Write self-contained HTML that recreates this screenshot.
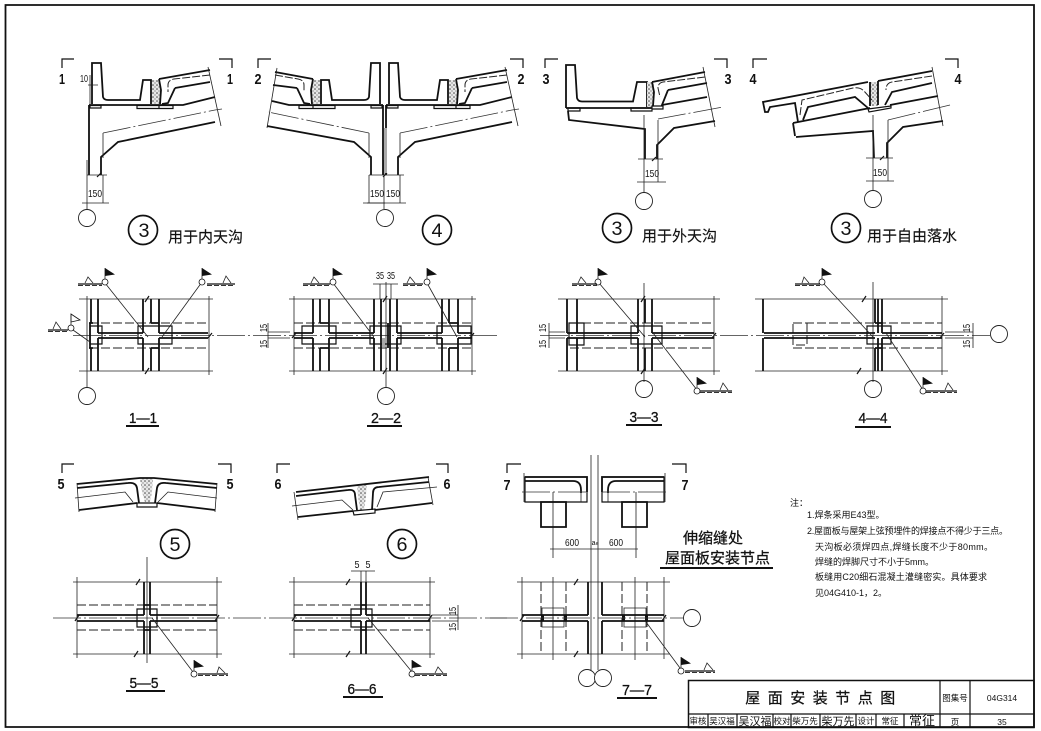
<!DOCTYPE html>
<html><head><meta charset="utf-8"><style>
html,body{margin:0;padding:0;background:#fff}
svg{display:block;filter:blur(.25px)}
text{font-family:"Liberation Sans","Noto Sans CJK SC",sans-serif;fill:#111}
.t{fill:none;stroke:#111;stroke-width:1.8}
.m{fill:none;stroke:#111;stroke-width:1.2}
.n{fill:none;stroke:#222;stroke-width:.8}
.d{fill:none;stroke:#222;stroke-width:1;stroke-dasharray:9 3}
.c{fill:none;stroke:#333;stroke-width:.8;stroke-dasharray:28 3 2 3}
.w{fill:#fff;stroke:#111;stroke-width:.8}
.u{fill:none;stroke:#111;stroke-width:2}
.s{font-size:10px;text-anchor:middle}
.l{font-size:15px;text-anchor:middle;font-weight:bold}
.b{font-size:19px;text-anchor:middle}
.h{font-size:15px;text-anchor:middle;stroke:#111;stroke-width:.3}
.k{font-size:15px;stroke:#111;stroke-width:.15}
.f{font-size:9px}
.g{font-size:10px;text-anchor:middle}
.e{font-size:8.500px;text-anchor:middle}
.r{fill:none;stroke:#333;stroke-width:.9;stroke-dasharray:5 2}
</style></head><body>
<svg width="1041" height="731" viewBox="0 0 1041 731" xmlns="http://www.w3.org/2000/svg">
<defs>
<pattern id="gr" width="4" height="4" patternUnits="userSpaceOnUse"><rect width="4" height="4" fill="#e8e8e8"/><circle cx="1" cy="1" r=".8" fill="#444"/><circle cx="3" cy="3" r=".6" fill="#666"/></pattern>
<g id="flag"><circle r="3" class="w"/><path class="n" d="M0-14V-3"/><path d="M0-14L10-7.500L0-6z" fill="#111"/></g>
<g id="d1">
<path class="t" d="M92 104V63H101L103 97Q104 100 108 100H140L143 80H151V104M89 105H183L215 97"/>
<rect x="152" y="80" width="8" height="24" fill="url(#gr)"/>
<path class="m" d="M90 105.500H101V108H90ZM137 105.500H159V108.500H137ZM159 105.500H173V108.500H159Z"/>
<path class="t" d="M89 105V175M101 175V157L118 142L215 122"/>
<path class="t" d="M159 79L210 70M175 88L210 82M175 88L168 103L162 104M159 79L161 90L160 104"/>
<path class="d" d="M210 75L174 79Q168 80 168 85V92" style="stroke-dasharray:8 2"/>
</g>
</defs>
<rect width="1041" height="731" fill="#fff"/>
<!-- frame -->
<path d="M5.500 5H1034V727H5.500Z" fill="none" stroke="#111" stroke-width="1.800"/>

<!-- break ticks -->
<path class="m" d="M97 177L101 173M383 177L387 173M652 161L656 157M880 160L884 156M145 302L149 296M145 374L149 368M383 302L387 296M383 374L387 368M641 302L645 296M641 374L645 368M862 302L866 296M857 374L861 368M136 585L140 579M134 657L138 651M346 585L350 579M346 657L350 651M574 585L578 579M574 657L578 651M208 338L212 333M292 338L296 333M470 338L474 333M712 338L716 333M940 338L944 333M75 621L79 615M215 621L219 615M292 621L296 615M428 621L432 615M520 621L524 615M662 621L666 615"/>

<!-- ============ DETAIL 1 ============ -->
<path class="m" d="M62 68V59H74M219 59H232V68M258 68V59H271M510 59H523V68"/>
<text class="l" x="62" y="84" textLength="6" lengthAdjust="spacingAndGlyphs">1</text>
<text class="l" x="230" y="84" textLength="6" lengthAdjust="spacingAndGlyphs">1</text>
<text class="l" x="258" y="84" textLength="7" lengthAdjust="spacingAndGlyphs">2</text>
<text class="l" x="521" y="84" textLength="7" lengthAdjust="spacingAndGlyphs">2</text>
<use href="#d1"/>
<path class="n" d="M208 67L221 126M103 158V133M87 175H107M87 160V203M103 175V203M82 203H109M87 203V209M88 85H98M90 75V105"/>
<path class="c" d="M103 133L215 110L222 109"/>
<text class="s" x="84" y="82" textLength="8" lengthAdjust="spacingAndGlyphs">10</text>
<text class="s" x="95" y="197" textLength="14" lengthAdjust="spacingAndGlyphs">150</text>
<circle cx="87" cy="218" r="8.500" class="n" style="stroke-width:.9"/>
<circle cx="143" cy="230" r="14.500" class="m" style="stroke-width:1.700"/>
<text class="b" x="144" y="237" textLength="11" lengthAdjust="spacingAndGlyphs">3</text>
<text class="k" x="168" y="242">用于内天沟</text>

<!-- ============ DETAIL 2 / 4 ============ -->
<g transform="translate(472,0) scale(-1,1)">
<path class="t" d="M92 104V63H101L103 97Q104 100 108 100H140L143 80H151V104M89 105H183L200 101"/>
<rect x="152" y="80" width="8" height="24" fill="url(#gr)"/>
<path class="m" d="M90 105.500H101V108H90ZM137 105.500H159V108.500H137ZM159 105.500H173V108.500H159Z"/>
<path class="t" d="M89 105V175M101 175V157L118 142L205 126"/>
<path class="t" d="M159 79L197 72M175 88L199 85M175 88L168 103L162 104M159 79L161 90L160 104"/>
<path class="d" d="M197 75L174 79Q168 80 168 85V92" style="stroke-dasharray:8 2"/>
<path class="n" d="M195 68L205 128M103 158V133M103 175H87M103 175V203M87 203H109"/>
<path class="c" d="M103 133L204 112"/>
</g>
<use href="#d1" x="297"/>
<path class="n" d="M505 67L518 126M400 158V133M384 175H404M384 160V203M400 175V203M367 203H406M384 203V209"/>
<path class="c" d="M400 133L512 110L519 109"/>
<rect x="384" y="128" width="3" height="45" fill="#aaa"/>
<text class="s" x="377" y="197" textLength="14" lengthAdjust="spacingAndGlyphs">150</text>
<text class="s" x="393" y="197" textLength="14" lengthAdjust="spacingAndGlyphs">150</text>
<circle cx="385" cy="218" r="8.500" class="n" style="stroke-width:.9"/>
<circle cx="437" cy="230" r="14.500" class="m" style="stroke-width:1.700"/>
<text class="b" x="437" y="237" textLength="11" lengthAdjust="spacingAndGlyphs">4</text>

<!-- ============ DETAIL 3 ============ -->
<path class="m" d="M545 68V59H558M714 59H727V68"/>
<text class="l" x="546" y="84" textLength="7" lengthAdjust="spacingAndGlyphs">3</text>
<text class="l" x="728" y="84" textLength="7" lengthAdjust="spacingAndGlyphs">3</text>
<path class="t" d="M566 108V65H575L577 98Q578 101.500 582 101.500H633L637 82H647V107M566 108H652"/>
<rect x="647" y="82" width="7" height="25" fill="url(#gr)"/>
<path class="m" d="M568 108H580V111H568ZM631 108H652V111H631ZM652 106H663V109H652Z"/>
<path class="t" d="M568 111L569 120L645 129V159M657 159V145L674 128L715 121"/>
<path class="t" d="M652 82L705 72M668 90L707 83M668 90L662 105L707 97M652 82L654 92L653 106"/>
<path class="d" d="M705 77L663 82Q658 83 658 88L660 97" style="stroke-dasharray:8 2"/>
<path class="n" d="M703 67L715 127M644 115V182M658 120V182M638 159H663M637 182H666M644 182V192"/>
<path class="c" d="M658 119L723 107"/>
<text class="s" x="652" y="177" textLength="14" lengthAdjust="spacingAndGlyphs">150</text>
<circle cx="644" cy="201" r="8.500" class="n" style="stroke-width:.9"/>
<circle cx="617" cy="228" r="14.500" class="m" style="stroke-width:1.700"/>
<text class="b" x="617" y="235" textLength="11" lengthAdjust="spacingAndGlyphs">3</text>
<text class="k" x="642" y="241">用于外天沟</text>

<!-- ============ DETAIL 4 (free fall) ============ -->
<path class="m" d="M753 68V59H767M945 59H958V68"/>
<text class="l" x="753" y="84" textLength="7" lengthAdjust="spacingAndGlyphs">4</text>
<text class="l" x="958" y="84" textLength="7" lengthAdjust="spacingAndGlyphs">4</text>
<rect x="870" y="82" width="8" height="24" fill="url(#gr)"/>
<path class="t" d="M932 71L878 81M868 82L763 102L765 112H768L770 107L795 103L798 122M803 120L808 107L855 97L868 108M885 105L892 92L932 83M890 105L938 96M793 123L870 108M793 123L795 136M796 137L873 131L874 158M887 158V143L903 127L943 121M870 82V106M878 81V105"/>
<path class="m" d="M868 109L891 106V108L869 112Z"/>
<path class="d" d="M800 115L802 100L853 88Q860 87 864 91L872 100M932 76L892 82Q886 83 886 90" style="stroke-dasharray:8 2"/>
<path class="n" d="M932 67L943 126M873 115V181M888 120V181M866 158H893M866 181H894M873 181V190"/>
<path class="c" d="M888 120L950 105"/>
<text class="s" x="880" y="176" textLength="14" lengthAdjust="spacingAndGlyphs">150</text>
<circle cx="873" cy="199" r="8.500" class="n" style="stroke-width:.9"/>
<circle cx="846" cy="228" r="14.500" class="m" style="stroke-width:1.700"/>
<text class="b" x="846" y="235" textLength="11" lengthAdjust="spacingAndGlyphs">3</text>
<text class="k" x="867" y="241">用于自由落水</text>

<!-- ============ CENTRE LINE row 1 ============ -->
<path class="c" d="M73 335.500H500M540 335.500H990"/>

<!-- PLAN 1-1 -->
<path class="n" d="M79 299H213M79 371H213M209 296V375M87 296V388"/>
<path class="d" d="M89 323H208M89 348H208"/>
<path class="m" d="M138 326H172V344H138ZM90 326H102V344H90Z"/>
<path class="t" d="M91 299V323M98 299V333M98 338V371M91 348V371M143 299V333M143 338V371M151 299V323M159 299V333M159 338V371M151 348V371M151 323H159M151 348H159M90 323V348M89 323H93M89 348H93M98 333H143M98 338H143M159 333H208M159 338H208"/>
<path class="n" d="M105 283L148 337M202 282L162 337M73 330L90 342"/>
<use href="#flag" x="105" y="282"/><use href="#flag" x="202" y="282"/>
<circle cx="71" cy="328" r="3" class="w"/><path class="w" d="M71 314L80 320L71 322Z"/><path class="n" d="M71 314V325"/>
<path class="m" d="M78 284H102M207 284H235M48 330H68"/>
<path class="r" d="M78 285.500H102M207 285.500H235M48 331.500H68"/>
<path class="n" d="M85 283L88 277L93 283M223 283L226 276L231 283M53 329L56 322L61 329"/>
<circle cx="87" cy="396" r="8.500" class="n" style="stroke-width:.9"/>
<text class="h" x="143" y="423" textLength="28" lengthAdjust="spacingAndGlyphs">1—1</text>
<path class="u" d="M126 426H159"/>

<!-- PLAN 2-2 -->
<path class="n" d="M289 299H476M289 371H476M294 296V375M472 296V375M386 282V388M268 323V348M268 332H290M268 338H290M373 284H398M380 284V299M386 284V299M391 284V299"/>
<path class="d" d="M294 323H472M294 348H472"/>
<path class="m" d="M302 326H336V344H302ZM370 326H401V344H370ZM437 326H471V344H437Z"/>
<rect x="382" y="338" width="3" height="9" fill="#aaa"/>
<path class="t" d="M313 299V333M313 338V371M320 299V323M320 348V371M329 299V333M329 338V371M320 323H329M320 348H329M374 299V333M374 338V371M381 299V323M381 348V371M381 323V348M390 299V371M388 323V348M397 299V333M397 338V371M442 299V333M442 338V371M449 299V323M449 348V371M458 299V333M458 338V371M449 323H458M449 348H458M294 333H313M294 338H313M329 333H374M329 338H374M397 333H442M397 338H442M458 333H472M458 338H472"/>
<path class="n" d="M333 283L374 337M427 283L457 337"/>
<use href="#flag" x="333" y="282"/><use href="#flag" x="427" y="282"/>
<path class="m" d="M303 284H330M403 284H423"/>
<path class="r" d="M303 285.500H330M403 285.500H423"/>
<path class="n" d="M311 283L314 277L319 283M407 283L410 277L415 283"/>
<text class="s" x="380" y="279" textLength="8" lengthAdjust="spacingAndGlyphs">35</text>
<text class="s" x="391" y="279" textLength="8" lengthAdjust="spacingAndGlyphs">35</text>
<text class="s" transform="translate(267,328) rotate(-90)" textLength="8" lengthAdjust="spacingAndGlyphs">15</text>
<text class="s" transform="translate(267,344) rotate(-90)" textLength="8" lengthAdjust="spacingAndGlyphs">15</text>
<circle cx="386" cy="396" r="8.500" class="n" style="stroke-width:.9"/>
<text class="h" x="386" y="423" textLength="30" lengthAdjust="spacingAndGlyphs">2—2</text>
<path class="u" d="M367 426H402"/>

<!-- PLAN 3-3 -->
<path class="n" d="M558 299H720M558 371H720M714 296V375M644 283V382M549 323V348M549 332H565M549 338H565"/>
<path class="d" d="M570 323H714M570 348H714"/>
<path class="m" d="M569 323H584V345H569ZM631 326H662V344H631Z"/>
<path class="t" d="M567 299V333M567 338V371M577 299V333M577 338V371M638 299V333M638 338V371M645 299V323M645 348V371M652 299V333M652 338V371M567 333H638M567 338H638M652 333H714M652 338H714"/>
<path class="n" d="M599 283L645 337M653 333L697 390"/>
<use href="#flag" x="598" y="282"/>
<path class="m" d="M572 284H597M700 391H732"/>
<path class="r" d="M572 285.500H597M700 392.500H732"/>
<path class="n" d="M578 283L581 277L586 283M720 390L723 383L728 390"/>
<use href="#flag" x="697" y="391"/>
<text class="s" transform="translate(546,328) rotate(-90)" textLength="8" lengthAdjust="spacingAndGlyphs">15</text>
<text class="s" transform="translate(546,344) rotate(-90)" textLength="8" lengthAdjust="spacingAndGlyphs">15</text>
<circle cx="644" cy="389" r="8.500" class="n" style="stroke-width:.9"/>
<text class="h" x="644" y="422" textLength="29" lengthAdjust="spacingAndGlyphs">3—3</text>
<path class="u" d="M626 425H662"/>

<!-- PLAN 4-4 -->
<path class="n" d="M755 299H948M755 371H948M942 296V375M873 282V382M973 323V348M945 332H973M945 338H973"/>
<path class="d" d="M793 323H942M793 348H942M807 323V345H793V323"/>
<path class="m" d="M867 326H891V344H867Z"/>
<path class="t" d="M763 299V333M763 338V371M875 299V323M875 348V371M878 299V333M878 338V371M882 299V333M882 338V371M875 323H882M875 348H882M764 333H875M764 338H875M882 333H942M882 338H942"/>
<path class="n" d="M823 283L873 337M886 333L923 390"/>
<use href="#flag" x="822" y="282"/>
<path class="m" d="M795 284H820M926 391H957"/>
<path class="r" d="M795 285.500H820M926 392.500H957"/>
<path class="n" d="M802 283L804 277L809 283M945 390L948 383L953 390"/>
<use href="#flag" x="923" y="391"/>
<text class="s" transform="translate(970,328) rotate(-90)" textLength="8" lengthAdjust="spacingAndGlyphs">15</text>
<text class="s" transform="translate(970,344) rotate(-90)" textLength="8" lengthAdjust="spacingAndGlyphs">15</text>
<circle cx="873" cy="389" r="8.500" class="n" style="stroke-width:.9"/>
<circle cx="999" cy="334" r="8.500" class="n" style="stroke-width:.9"/>
<text class="h" x="873" y="423" textLength="29" lengthAdjust="spacingAndGlyphs">4—4</text>
<path class="u" d="M855 427H891"/>

<!-- ============ DETAIL 5 ============ -->
<path class="m" d="M62 473V464H74M218 464H231V473"/>
<text class="l" x="61" y="489" textLength="7" lengthAdjust="spacingAndGlyphs">5</text>
<text class="l" x="230" y="489" textLength="7" lengthAdjust="spacingAndGlyphs">5</text>
<path d="M140 478H153L152 492L150 502H145L142 492Z" fill="url(#gr)"/>
<path class="t" d="M77 484L140 478H154L217 484M79 510L137 503M157 503L215 510M77 488L128 483Q136 482 137 488L139 503M217 488L166 483Q158 482 157 488L155 503"/>
<path class="m" d="M137 503H157V507H137Z"/>
<path class="n" d="M75 498L125 492L133 502M158 502L168 492L217 498M77 483L79 512M217 483L215 512"/>
<circle cx="175" cy="544" r="14.500" class="m" style="stroke-width:1.700"/>
<text class="b" x="175" y="551" textLength="11" lengthAdjust="spacingAndGlyphs">5</text>

<!-- DETAIL 6 -->
<path class="m" d="M277 473V464H290M436 464H448V473"/>
<text class="l" x="278" y="489" textLength="7" lengthAdjust="spacingAndGlyphs">6</text>
<text class="l" x="447" y="489" textLength="7" lengthAdjust="spacingAndGlyphs">6</text>
<path d="M357 485H367L366 496L364 510H360L358 496Z" fill="url(#gr)"/>
<path class="t" d="M296 492L429 477M296 496L348 490Q355 489 355 495L357 510M372 510L373 493Q373 487 379 487L429 482M298 517L353 511M375 510L432 503"/>
<path class="m" d="M353 511L375 509V513L354 515Z"/>
<path class="n" d="M292 506L342 500L353 510M377 507L383 492L437 487M294 492L298 520M428 477L433 505"/>
<circle cx="402" cy="544" r="14.500" class="m" style="stroke-width:1.700"/>
<text class="b" x="402" y="551" textLength="11" lengthAdjust="spacingAndGlyphs">6</text>

<!-- CENTRE LINE row 2 -->
<path class="c" d="M53 618H507"/>

<!-- PLAN 5-5 -->
<path class="n" d="M73 582H222M73 654H222M77 577V658M217 577V658M147 557V663"/>
<path class="d" d="M77 605H217M77 630H217"/>
<path class="m" d="M137 609H157V627H137Z"/>
<path class="t" d="M144 582V615M144 621V654M150 582V615M150 621V654M144 605H150M144 630H150M77 615H144M77 621H144M150 615H217M150 621H217"/>
<path class="n" d="M152 618L193 672"/>
<use href="#flag" x="194" y="674"/>
<path class="m" d="M198 674H228"/>
<path class="r" d="M198 675.500H228"/>
<path class="n" d="M217 673L219 667L225 673"/>
<text class="h" x="144" y="688" textLength="29" lengthAdjust="spacingAndGlyphs">5—5</text>
<path class="u" d="M126 691H165"/>

<!-- PLAN 6-6 -->
<path class="n" d="M289 582H435M289 654H435M294 577V658M430 577V658M351 571H375M361 571V582M366 571V582M458 605V630M432 615H458M432 621H458"/>
<path class="d" d="M294 605H430M294 630H430"/>
<path class="m" d="M351 609H372V627H351Z"/>
<path class="t" d="M361 582V615M361 621V654M366 582V615M366 621V654M361 605H366M361 630H366M294 615H361M294 621H361M366 615H430M366 621H430"/>
<path class="n" d="M368 618L412 672"/>
<use href="#flag" x="412" y="674"/>
<path class="m" d="M415 674H447"/>
<path class="r" d="M415 675.500H447"/>
<path class="n" d="M435 673L438 667L443 673"/>
<text class="s" x="357" y="568" textLength="5" lengthAdjust="spacingAndGlyphs">5</text>
<text class="s" x="368" y="568" textLength="5" lengthAdjust="spacingAndGlyphs">5</text>
<text class="s" transform="translate(456,611) rotate(-90)" textLength="8" lengthAdjust="spacingAndGlyphs">15</text>
<text class="s" transform="translate(456,627) rotate(-90)" textLength="8" lengthAdjust="spacingAndGlyphs">15</text>
<text class="h" x="362" y="694" textLength="29" lengthAdjust="spacingAndGlyphs">6—6</text>
<path class="u" d="M343 697H383"/>

<!-- ============ DETAIL 7 ============ -->
<path class="m" d="M507 473V464H521M672 464H686V473"/>
<text class="l" x="507" y="490" textLength="7" lengthAdjust="spacingAndGlyphs">7</text>
<text class="l" x="685" y="490" textLength="7" lengthAdjust="spacingAndGlyphs">7</text>
<path class="n" d="M591 455V670M598 455V670"/>
<path class="m" d="M525 477H587V502H525ZM664 477H602V502H664Z"/>
<path class="t" d="M525 481H573Q581 481 581 490V493M664 481H616Q608 481 608 490V493M525 477H587V492M664 477H602V492"/>
<path class="n" d="M581 493V502M608 493V502M553 492V558M636 492V558M524 473V502M665 473V502M550 549H638"/>
<path class="t" d="M541 502H566V527H541ZM622 502H647V527H622Z"/>
<path class="c" d="M522 492H587M602 492H667"/>
<text class="s" x="572" y="546" textLength="14" lengthAdjust="spacingAndGlyphs">600</text>
<text class="s" x="616" y="546" textLength="14" lengthAdjust="spacingAndGlyphs">600</text>
<text class="s" x="595" y="545" style="font-size:7px">a<tspan style="font-size:5px">e</tspan></text>

<!-- PLAN 7-7 -->
<path class="n" d="M517 582H670M517 654H670M522 577V659M664 577V659M553 577V660M635 577V660"/>
<path class="d" d="M541 582V654M566 582V654M622 582V654M647 582V654"/>
<path class="n" d="M542 608H564V627H542ZM624 608H646V627H624Z"/>
<path class="t" d="M588 582V615M588 621V654M602 582V615M602 621V654M522 615H588M522 621H588M602 615H664M602 621H664"/>
<path d="M541 615H544V621H541ZM564 615H567V621H564ZM622 615H625V621H622ZM645 615H648V621H645Z" fill="#111"/>
<path class="n" d="M646 622L680 668"/>
<path class="c" d="M490 618H684"/>
<circle cx="692" cy="618" r="8.500" class="n" style="fill:#fff;stroke-width:.9"/>
<use href="#flag" x="681" y="671"/>
<path class="m" d="M685 671H715"/>
<path class="r" d="M685 672.500H715"/>
<path class="n" d="M704 670L707 663L713 670"/>
<circle cx="587" cy="678" r="8.500" class="n" style="fill:#fff;stroke-width:.9"/>
<circle cx="603" cy="678" r="8.500" class="n" style="fill:#fff;stroke-width:.9"/>
<text class="h" x="637" y="695" textLength="30" lengthAdjust="spacingAndGlyphs">7—7</text>
<path class="u" d="M617 698H657"/>

<!-- Title -->
<text class="k" x="683" y="543" textLength="60" style="stroke-width:.25">伸缩缝处</text>
<text class="k" x="665" y="563" textLength="105" style="stroke-width:.25">屋面板安装节点</text>
<path class="u" d="M660 568H773"/>

<!-- Notes -->
<text class="f" x="790" y="506">注：</text>
<text class="f" x="807" y="518">1.焊条采用E43型。</text>
<text class="f" x="807" y="534" textLength="201">2.屋面板与屋架上弦预埋件的焊接点不得少于三点。</text>
<text class="f" x="815" y="550" textLength="178">天沟板必须焊四点,焊缝长度不少于80mm。</text>
<text class="f" x="815" y="565">焊缝的焊脚尺寸不小于5mm。</text>
<text class="f" x="815" y="580" textLength="172">板缝用C20细石混凝土灌缝密实。具体要求</text>
<text class="f" x="815" y="596">见04G410-1，2。</text>

<!-- Title block -->
<path d="M688.500 680.500H1034V727.500H688.500Z" fill="none" stroke="#111" stroke-width="1.500"/>
<path class="m" d="M688 714H1034M940 680V728M970 680V728M708 714V728M737 714V728M773 714V728M791 714V728M820 714V728M856 714V728M876 714V728M904 714V728"/>
<text x="824" y="703" style="font-size:15px;text-anchor:middle;letter-spacing:7.500px;stroke:#111;stroke-width:.25">屋面安装节点图</text>
<text class="e" x="955" y="701">图集号</text>
<text class="e" x="1002" y="701">04G314</text>
<text class="e" x="955" y="725">页</text>
<text class="e" x="1002" y="725">35</text>
<text class="e" x="698" y="724">审核</text>
<text class="e" x="722" y="724">吴汉福</text>
<text x="755" y="725" style="font-size:11px;text-anchor:middle">吴汉福</text>
<text class="e" x="782" y="724">校对</text>
<text class="e" x="805" y="724">柴万先</text>
<text x="838" y="725" style="font-size:11px;text-anchor:middle">柴万先</text>
<text class="e" x="866" y="724">设计</text>
<text class="e" x="890" y="724">常征</text>
<text x="922" y="725" style="font-size:13px;text-anchor:middle">常征</text>
</svg>
</body></html>
